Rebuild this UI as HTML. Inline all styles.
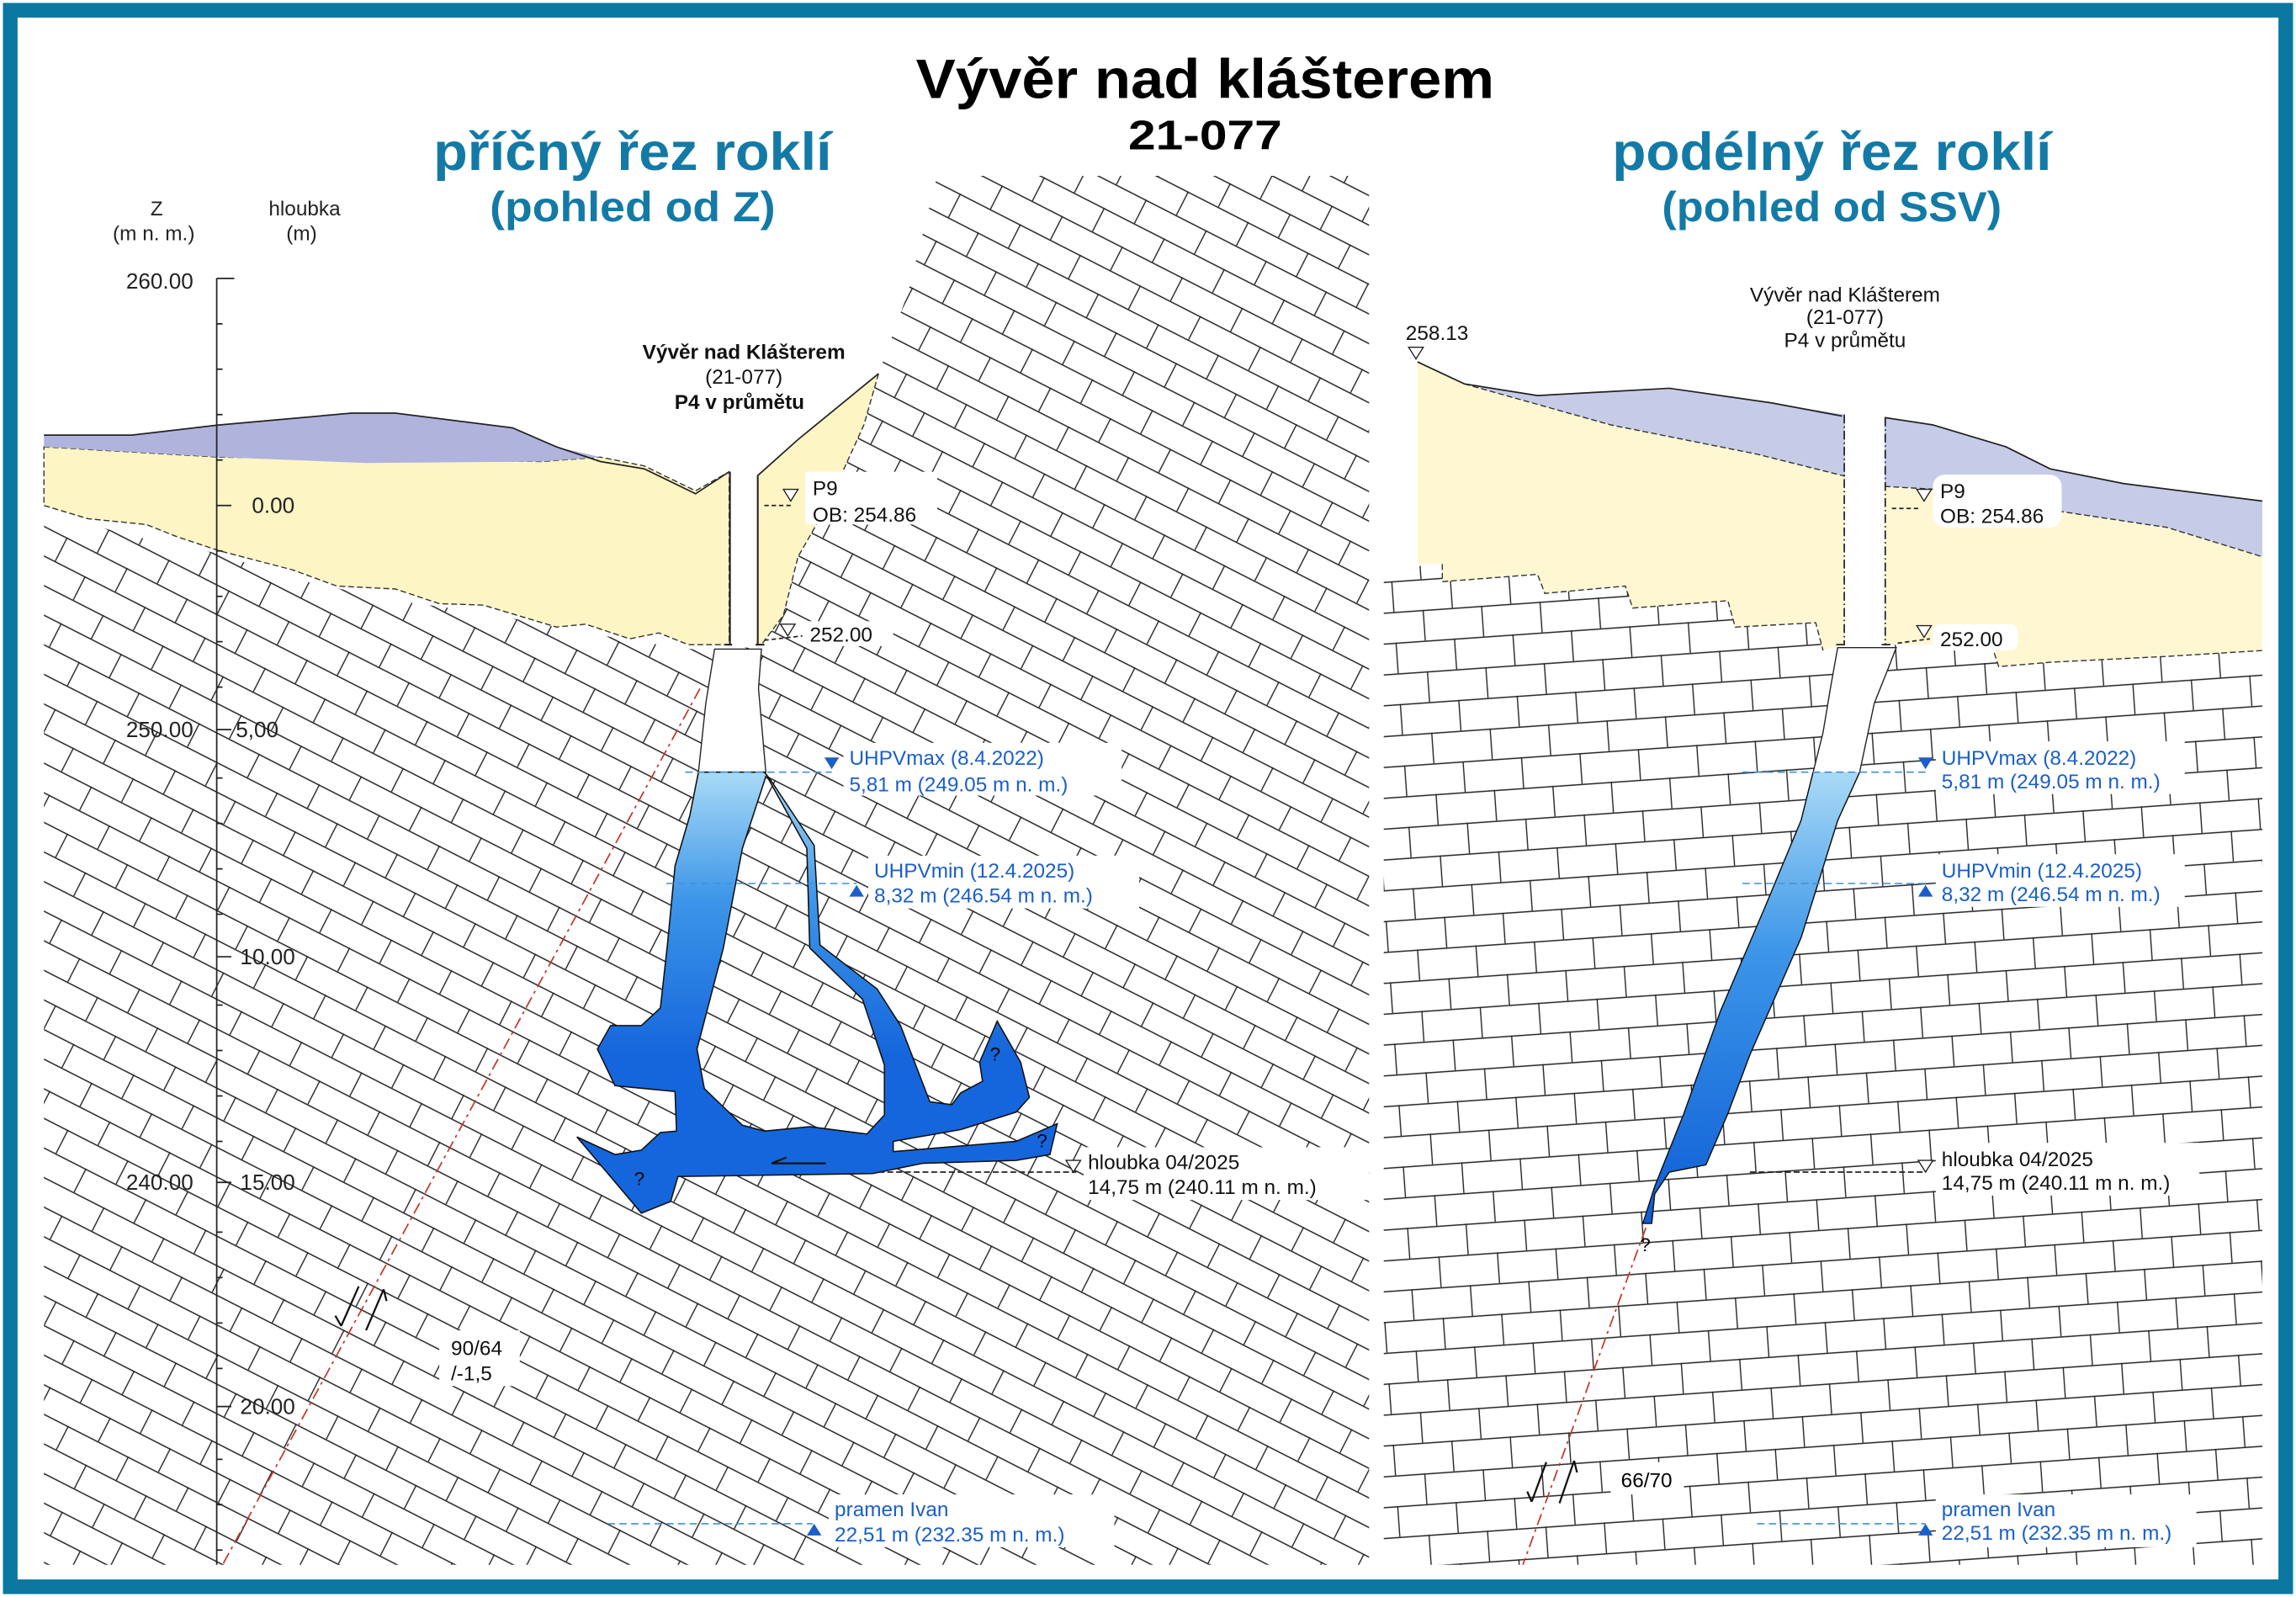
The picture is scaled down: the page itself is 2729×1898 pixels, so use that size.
<!DOCTYPE html>
<html><head><meta charset="utf-8"><style>
html,body{margin:0;padding:0;background:#fff}
svg{display:block}
text{font-family:"Liberation Sans",sans-serif}
</style></head><body>
<svg width="2729" height="1898" viewBox="0 0 1568 1090" preserveAspectRatio="none" xmlns="http://www.w3.org/2000/svg">
<defs>
<pattern id="pL" width="46" height="36" patternUnits="userSpaceOnUse" patternTransform="rotate(27)">
<rect width="46" height="36" fill="#fff"/>
<path d="M0 0.5H46M0 18.5H46M0.5 0V18M23.5 18V36" stroke="#222" stroke-width="0.8" fill="none"/>
</pattern>
<pattern id="pR" width="40" height="42" patternUnits="userSpaceOnUse" patternTransform="rotate(-4)">
<rect width="40" height="42" fill="#fff"/>
<path d="M0 0.5H40M0 21.5H40M0.5 0V21M20.5 21V42" stroke="#222" stroke-width="0.8" fill="none"/>
</pattern>
<linearGradient id="wg" gradientUnits="userSpaceOnUse" x1="0" y1="527" x2="0" y2="720">
<stop offset="0" stop-color="#a9daf6"/><stop offset="0.45" stop-color="#3d96e8"/><stop offset="1" stop-color="#1566dc"/>
</linearGradient>
<linearGradient id="wg2" gradientUnits="userSpaceOnUse" x1="0" y1="527" x2="0" y2="830">
<stop offset="0" stop-color="#a9daf6"/><stop offset="0.4" stop-color="#3d96e8"/><stop offset="1" stop-color="#0e5fd6"/>
</linearGradient>
<clipPath id="below"><rect x="900" y="527" width="500" height="400"/></clipPath>
</defs>
<rect width="1568" height="1090" fill="#fff"/>
<rect x="2" y="2" width="1564" height="1086" fill="#0a78a0"/>
<rect x="12" y="12" width="1544" height="1066" fill="#fff"/>

<!-- LEFT ROCK -->
<polygon fill="url(#pL)" points="30,350 100,368 150,378 200,395 270,410 330,418 400,432 450,440 487,445 520,440 535,400 545,350 560,320 600,255 620,200 640,120 935,120 935,1068 30,1068"/>
<polygon fill="#fdf5c4" stroke="#333" stroke-width="0.8" stroke-dasharray="4 2" points="30,305 150,312 370,315 410,312 440,318 475,335 498,322 498,440 470,440 450,432 430,436 400,426 380,428 330,413 300,412 270,402 230,400 200,389 150,376 120,366 100,358 60,354 30,345"/>
<polygon fill="#b0b3dc" points="30,297 90,297 150,290 240,282 270,282 350,292 380,305 410,312 370,315 250,316 150,312 30,305"/>
<polyline fill="none" stroke="#222" stroke-width="1" points="30,297 90,297 150,290 240,282 270,282 350,292 380,305 410,315 440,320 475,337 498,322"/>
<polygon fill="#fdf5c4" points="517,325 545,300 600,255 590,290 565,345 545,380 535,420 520,440 517,440"/>
<polyline fill="none" stroke="#222" stroke-width="1" points="517,325 545,300 600,255"/>
<polyline fill="none" stroke="#333" stroke-width="0.8" stroke-dasharray="4 2" points="600,255 590,290 565,345 545,380 535,420 520,440"/>
<rect x="499" y="320" width="18" height="122" fill="#fff"/>
<path d="M498.5 322V440M517.5 325V440M495 440H500M516 440H522" stroke="#222" stroke-width="1.2" fill="none"/>
<polygon fill="#fff" stroke="#222" stroke-width="0.8" points="488,443 520,443 518,470 523,527 477,527 482,480"/>
<line x1="478" y1="470" x2="152" y2="1068" stroke="#c0392b" stroke-width="1" stroke-dasharray="8 3 2 3"/>
<path d="M245 878L233 905M233 905L229 898M262 880L250 908M262 880L264 888" stroke="#111" stroke-width="1.3" fill="none"/>
<!-- cave left -->
<path fill="url(#wg)" fill-rule="evenodd" stroke="#111" stroke-width="0.9" d="M477,527 L522,527 L526,532 L556,577 L560,645 L599,675 L615,700 L635,752 L650,754 L656,746 L671,738 L669,725 L681,697 L697,725 L703,749 L694,759 L656,771 L610,779 L610,786 L694,779 L722,767 L717,788 L694,792 L630,794 L596,801 L463,803 L458,820 L438,828 L394,776 L420,788 L438,785 L451,773 L462,772 L461,745 L420,741 L408,716 L417,700 L438,700 L451,688 L456,643 L461,591 L471,557 Z M523,530 L507,579 L494,647 L476,716 L481,743 L507,768 L522,772 L553,769 L592,774 L604,761 L604,727 L589,682 L553,647 L551,579 L525,532 Z"/>
<line x1="527" y1="794" x2="564" y2="794" stroke="#111" stroke-width="1.3"/>
<path d="M527 794l10 -4" stroke="#111" stroke-width="1.3"/>
<text x="433" y="809" font-size="13">?</text><text x="676" y="724" font-size="13">?</text><text x="708" y="783" font-size="13">?</text>

<!-- axis -->
<g stroke="#222" stroke-width="1">
<line x1="148" y1="190" x2="148" y2="1068"/>
<line x1="148" y1="190" x2="160" y2="190"/>
<path d="M148 221h4M148 252h4M148 283h4M148 314h4M148 376h4M148 407h4M148 438h4M148 469h4M148 531h4M148 562h4M148 593h4M148 624h4M148 686h4M148 717h4M148 748h4M148 779h4M148 841h4M148 872h4M148 903h4M148 934h4M148 996h4M148 1027h4M148 1058h4"/>
<path d="M148 345h10M148 498h10M148 653h10M148 807h10M148 960h10"/>
</g>
<g font-size="14" fill="#222">
<text x="107" y="147" text-anchor="middle">Z</text>
<text x="105" y="164" text-anchor="middle">(m n. m.)</text>
<text x="208" y="147" text-anchor="middle">hloubka</text>
<text x="206" y="164" text-anchor="middle">(m)</text>
<text x="132" y="197" text-anchor="end" font-size="15">260.00</text>
<text x="172" y="350" font-size="15">0.00</text>
<text x="132" y="503" text-anchor="end" font-size="15">250.00</text>
<text x="161" y="503" font-size="15">5,00</text>
<text x="164" y="658" font-size="15">10.00</text>
<text x="132" y="812" text-anchor="end" font-size="15">240.00</text>
<text x="164" y="812" font-size="15">15.00</text>
<text x="164" y="965" font-size="15">20.00</text>
</g>

<!-- RIGHT ROCK -->
<polygon fill="url(#pR)" points="945,392 975,385 985,385 985,397 1050,392 1055,405 1110,400 1115,415 1180,410 1185,428 1240,425 1245,445 1260,445 1295,440 1360,440 1365,455 1400,452 1480,448 1545,444 1545,1068 945,1068"/>
<polygon fill="#fff7d2" points="968,247 1000,262 1050,270 1140,265 1210,275 1260,283 1260,440 1245,444 1240,425 1185,428 1180,410 1115,415 1110,400 1055,405 1050,392 985,397 985,385 968,385"/>
<polygon fill="#c6cbe8" points="1000,262 1050,270 1140,265 1210,275 1260,283 1260,325 1200,310 1100,290 1000,262"/>
<polyline fill="none" stroke="#333" stroke-width="0.8" stroke-dasharray="4 2" points="1000,262 1100,290 1200,310 1260,325"/>
<polyline fill="none" stroke="#222" stroke-width="1" points="968,247 1000,262 1050,270 1140,265 1210,275 1258,284"/>
<polyline fill="none" stroke="#333" stroke-width="0.8" stroke-dasharray="4 2" points="985,385 985,397 1050,392 1055,405 1110,400 1115,415 1180,410 1185,428 1240,425 1245,444"/>
<polygon fill="#fff7d2" points="1287,333 1340,335 1400,348 1480,360 1545,380 1545,444 1480,448 1400,452 1365,455 1360,440 1295,440 1287,440"/>
<polygon fill="#c6cbe8" points="1287,285 1320,290 1370,305 1400,320 1450,330 1545,342 1545,380 1480,360 1400,348 1340,335 1287,332"/>
<polyline fill="none" stroke="#222" stroke-width="1" points="1287,285 1320,290 1370,305 1400,320 1450,330 1545,342"/>
<polyline fill="none" stroke="#333" stroke-width="0.8" stroke-dasharray="4 2" points="1287,332 1340,335 1400,348 1480,360 1545,380"/>
<polyline fill="none" stroke="#333" stroke-width="0.8" stroke-dasharray="4 2" points="1360,440 1365,455 1400,452 1480,448 1545,444"/>
<rect x="1260" y="283" width="27" height="160" fill="#fff"/>
<path d="M1259.5 283V440M1287.5 285V440M1254 440H1262M1285 440H1293" stroke="#222" stroke-width="1" stroke-dasharray="6 2 1 2"/>
<polygon fill="#fff" stroke="#222" stroke-width="0.8" points="1255,442 1295,442 1290,455 1280,480 1270,527 1255,560 1230,640 1195,720 1180,760 1165,795 1140,800 1130,815 1128,835 1122,835 1130,810 1150,760 1175,690 1205,620 1230,560 1245,500 1250,470"/>
<polygon clip-path="url(#below)" fill="url(#wg2)" stroke="#111" stroke-width="0.8" points="1255,442 1295,442 1290,455 1280,480 1270,527 1255,560 1230,640 1195,720 1180,760 1165,795 1140,800 1130,815 1128,835 1122,835 1130,810 1150,760 1175,690 1205,620 1230,560 1245,500 1250,470"/>
<line x1="1124" y1="838" x2="1040" y2="1068" stroke="#c0392b" stroke-width="1" stroke-dasharray="8 3 2 3"/>
<path d="M1056 998L1046 1025M1046 1025L1043 1018M1075 997L1065 1026M1075 997L1077 1005" stroke="#111" stroke-width="1.3" fill="none"/>
<text x="1120" y="854" font-size="13">?</text>
<rect x="1100" y="998" width="50" height="22" fill="#fff"/>
<text x="1107" y="1015" font-size="14">66/70</text>

<!-- titles -->
<text x="823" y="67" font-size="38" font-weight="bold" text-anchor="middle" textLength="395" lengthAdjust="spacingAndGlyphs">Vývěr nad klášterem</text>
<text x="823" y="102" font-size="28" font-weight="bold" text-anchor="middle" textLength="105" lengthAdjust="spacingAndGlyphs">21-077</text>
<g fill="#137aa6" font-weight="bold" text-anchor="middle">
<text x="432" y="116" font-size="36" textLength="272" lengthAdjust="spacingAndGlyphs">příčný řez roklí</text>
<text x="432" y="151" font-size="29" textLength="195" lengthAdjust="spacingAndGlyphs">(pohled od Z)</text>
<text x="1251" y="116" font-size="36" textLength="300" lengthAdjust="spacingAndGlyphs">podélný řez roklí</text>
<text x="1251" y="151" font-size="29" textLength="232" lengthAdjust="spacingAndGlyphs">(pohled od SSV)</text>
</g>

<g font-size="14" fill="#111" text-anchor="middle" font-weight="bold">
<text x="508" y="245">Vývěr nad Klášterem</text>
<text x="508" y="262" font-weight="normal">(21-077)</text>
<text x="505" y="279">P4 v průmětu</text>
</g>
<g font-size="14" fill="#111" text-anchor="middle">
<text x="1260" y="206">Vývěr nad Klášterem</text>
<text x="1260" y="221">(21-077)</text>
<text x="1260" y="237">P4 v průmětu</text>
</g>
<g font-size="14" fill="#111">
<rect x="550" y="322" width="90" height="36" fill="#fff"/>
<text x="555" y="338">P9</text><text x="555" y="356">OB: 254.86</text>
<path d="M535 334h10l-5 8z" fill="#fff" stroke="#222" stroke-width="0.8"/>
<line x1="522" y1="345" x2="540" y2="345" stroke="#222" stroke-dasharray="3 2"/>
<rect x="550" y="424" width="60" height="17" fill="#fff"/>
<text x="553" y="438">252.00</text>
<path d="M533 426h10l-5 8z" fill="#fff" stroke="#222" stroke-width="0.8"/>
<line x1="522" y1="437" x2="548" y2="434" stroke="#222" stroke-dasharray="3 2"/>
<rect x="740" y="783" width="195" height="36" fill="#fff"/>
<text x="743" y="798">hloubka 04/2025</text><text x="743" y="815">14,75 m (240.11 m n. m.)</text>
<path d="M728 792h10l-5 8z" fill="#fff" stroke="#222" stroke-width="0.8"/>
<line x1="600" y1="800" x2="735" y2="800" stroke="#222" stroke-dasharray="4 2"/>
<rect x="300" y="908" width="55" height="38" fill="#fff"/>
<text x="308" y="925">90/64</text><text x="308" y="942">/-1,5</text>

<rect x="1320" y="324" width="88" height="36" rx="8" fill="#fff"/>
<text x="1325" y="340">P9</text><text x="1325" y="357">OB: 254.86</text>
<path d="M1309 334h10l-5 8z" fill="#fff" stroke="#222" stroke-width="0.8"/>
<line x1="1292" y1="347" x2="1312" y2="347" stroke="#222" stroke-dasharray="3 2"/>
<rect x="1320" y="426" width="58" height="18" rx="5" fill="#fff"/>
<text x="1325" y="441">252.00</text>
<path d="M1309 427h10l-5 8z" fill="#fff" stroke="#222" stroke-width="0.8"/>
<line x1="1296" y1="439" x2="1318" y2="436" stroke="#222" stroke-dasharray="3 2"/>
<rect x="1322" y="780" width="180" height="36" fill="#fff"/>
<text x="1326" y="796">hloubka 04/2025</text><text x="1326" y="812">14,75 m (240.11 m n. m.)</text>
<path d="M1310 792h10l-5 8z" fill="#fff" stroke="#222" stroke-width="0.8"/>
<line x1="1195" y1="800" x2="1315" y2="800" stroke="#222" stroke-dasharray="4 2"/>
<rect x="955" y="218" width="55" height="16" fill="#fff"/>
<text x="960" y="232">258.13</text>
<path d="M962 237h10l-5 8z" fill="#fff" stroke="#222" stroke-width="0.8"/>
</g>

<g font-size="14" fill="#1a5fc8">
<rect x="576" y="507" width="190" height="36" fill="#fff"/>
<text x="580" y="522">UHPVmax (8.4.2022)</text><text x="580" y="540">5,81 m (249.05 m n. m.)</text>
<path d="M563 517h10l-5 8z" fill="#1a5fc8"/>
<line x1="468" y1="527" x2="568" y2="527" stroke="#3f8fd8" stroke-width="0.9" stroke-dasharray="5 3"/>
<rect x="593" y="584" width="185" height="36" fill="#fff"/>
<text x="597" y="599">UHPVmin (12.4.2025)</text><text x="597" y="616">8,32 m (246.54 m n. m.)</text>
<path d="M580 612h10l-5 -8z" fill="#1a5fc8"/>
<line x1="455" y1="603" x2="585" y2="603" stroke="#3f8fd8" stroke-width="0.9" stroke-dasharray="5 3"/>
<rect x="566" y="1020" width="195" height="36" fill="#fff"/>
<text x="570" y="1035">pramen Ivan</text><text x="570" y="1052">22,51 m (232.35 m n. m.)</text>
<path d="M551 1048h10l-5 -8z" fill="#1a5fc8"/>
<line x1="415" y1="1040" x2="555" y2="1040" stroke="#3f8fd8" stroke-width="0.9" stroke-dasharray="5 3"/>

<rect x="1322" y="506" width="170" height="36" fill="#fff"/>
<text x="1326" y="522">UHPVmax (8.4.2022)</text><text x="1326" y="538">5,81 m (249.05 m n. m.)</text>
<path d="M1310 517h10l-5 8z" fill="#1a5fc8"/>
<line x1="1190" y1="527" x2="1315" y2="527" stroke="#3f8fd8" stroke-width="0.9" stroke-dasharray="5 3"/>
<rect x="1322" y="583" width="170" height="36" fill="#fff"/>
<text x="1326" y="599">UHPVmin (12.4.2025)</text><text x="1326" y="615">8,32 m (246.54 m n. m.)</text>
<path d="M1310 612h10l-5 -8z" fill="#1a5fc8"/>
<line x1="1190" y1="603" x2="1315" y2="603" stroke="#3f8fd8" stroke-width="0.9" stroke-dasharray="5 3"/>
<rect x="1322" y="1020" width="178" height="36" fill="#fff"/>
<text x="1326" y="1035">pramen Ivan</text><text x="1326" y="1051">22,51 m (232.35 m n. m.)</text>
<path d="M1310 1048h10l-5 -8z" fill="#1a5fc8"/>
<line x1="1200" y1="1040" x2="1315" y2="1040" stroke="#3f8fd8" stroke-width="0.9" stroke-dasharray="5 3"/>
</g>
</svg>
</body></html>
